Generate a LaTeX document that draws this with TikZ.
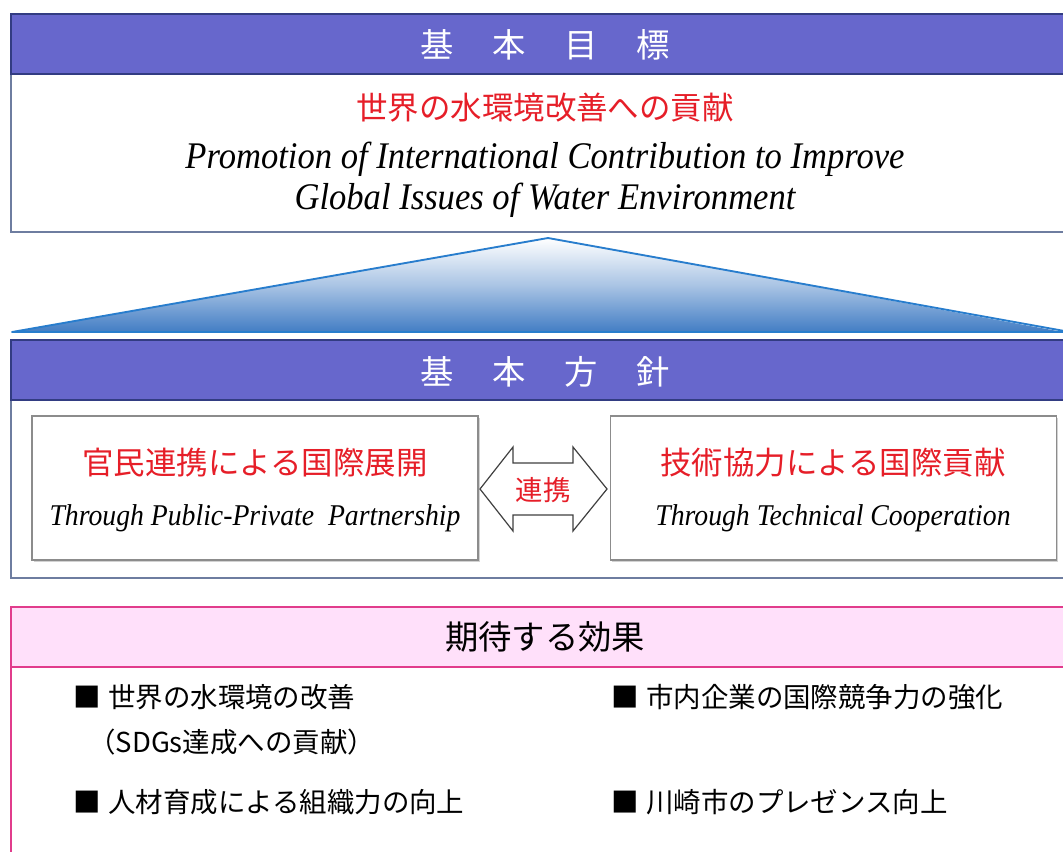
\documentclass[tikz,border=0pt]{standalone}
\usepackage{fontspec}
\setmainfont{Liberation Serif}
\newfontfamily\enfont[FakeStretch=0.92]{Liberation Serif}
\newfontfamily\jp{Noto Sans CJK JP}
\usetikzlibrary{shadows}
\definecolor{headblue}{RGB}{103,103,204}
\definecolor{headline}{RGB}{50,60,130}
\definecolor{boxline}{RGB}{110,125,160}
\definecolor{jred}{RGB}{230,30,40}
\definecolor{pinkfill}{RGB}{255,224,250}
\definecolor{pinkline}{RGB}{225,60,140}
\definecolor{triblue}{RGB}{66,125,196}
\definecolor{triline}{RGB}{40,125,205}
\definecolor{innerline}{RGB}{140,140,140}
\tikzset{
  headtext/.style={text=white, font=\jp\fontsize{25}{30}\selectfont, inner sep=0pt},
  redtitle/.style={text=jred, font=\jp\fontsize{23.6}{28}\selectfont, inner sep=0pt},
  entext/.style={font=\enfont\itshape\fontsize{22.6}{27}\selectfont, inner sep=0pt},
  bullet/.style={font=\jp\fontsize{20.6}{25}\selectfont, anchor=west, inner sep=0pt},
  innerbox/.style={draw=innerline, line width=0.8pt, fill=white,
     drop shadow={shadow xshift=1.2pt, shadow yshift=-1.2pt, opacity=0.35, fill=gray},
     minimum width=334.5pt, minimum height=108pt, inner sep=0pt},
}
\begin{document}
\begin{tikzpicture}[x=0.75pt,y=-0.75pt]
\useasboundingbox (0,0) rectangle (1063,851);
\clip (0,0) rectangle (1063,851);
\fill[white] (0,0) rectangle (1063,851);

% ---- goal box
\draw[boxline, line width=1.2pt, fill=white] (11,14) rectangle (1075,232);
\draw[headline, line width=1pt, fill=headblue] (11,14) rectangle (1075,74);
\node[headtext] (goalhead) at (545,45) {基\hspace{29pt}本\hspace{29pt}目\hspace{29pt}標};
\node[redtitle] (goaljp) at (545,108) {世界の水環境改善への貢献};
\node[font=\enfont\itshape\fontsize{28.2}{31}\selectfont, align=center, inner sep=0pt] (goalen) at (545,180)
  {Promotion of International Contribution to Improve\\Global Issues of Water Environment};

% ---- triangle
\shade[top color=white, bottom color=triblue, middle color=white!55!triblue] (548,238) -- (12,332) -- (1063,332) -- cycle;
\draw[triline, line width=1.4pt, line join=round] (548,238) -- (12,332) -- (1070,332) -- cycle;

% ---- policy box
\draw[boxline, line width=1.2pt, fill=white] (11,340) rectangle (1075,578);
\draw[headline, line width=1pt, fill=headblue] (11,340) rectangle (1075,400);
\node[headtext] (policyhead) at (545,372) {基\hspace{29pt}本\hspace{29pt}方\hspace{29pt}針};

\node[innerbox] (ppp) at (255,488) {};
\node[innerbox] (tech) at (833.5,488) {};
\node[redtitle] (pppjp) at (255,463) {官民連携による国際展開};
\node[entext] (pppen) at (255,518) {Through Public-Private\ \ Partnership};
\node[redtitle] (techjp) at (833,463) {技術協力による国際貢献};
\node[entext] (techen) at (833,518) {Through Technical Cooperation};

\draw[black!75, line width=0.9pt, fill=white, line join=miter]
  (480,489) -- (513,447) -- (513,463) -- (573,463) -- (573,447) -- (607,489)
  -- (573,531) -- (573,515) -- (513,515) -- (513,531) -- cycle;
\node[text=jred, font=\jp\fontsize{20.6}{25}\selectfont, inner sep=0pt] (link) at (543,490) {連携};

% ---- effects box
\draw[pinkline, line width=1pt, fill=white] (11,607) rectangle (1075,900);
\draw[pinkline, line width=1pt, fill=pinkfill] (11,607) rectangle (1075,667);
\node[font=\jp\fontsize{25}{30}\selectfont, inner sep=0pt] (effhead) at (545,637) {期待する効果};

\node[bullet] (e1) at (73,697) {■\hspace{5.6pt}世界の水環境の改善};
\node[bullet] (e1b) at (88,742) {（SDGs達成への貢献）};
\node[bullet] (e2) at (73,802) {■\hspace{5.6pt}人材育成による組織力の向上};
\node[bullet] (e3) at (611,697) {■\hspace{5.6pt}市内企業の国際競争力の強化};
\node[bullet] (e4) at (611,802) {■\hspace{5.6pt}川崎市のプレゼンス向上};
\end{tikzpicture}
\end{document}
